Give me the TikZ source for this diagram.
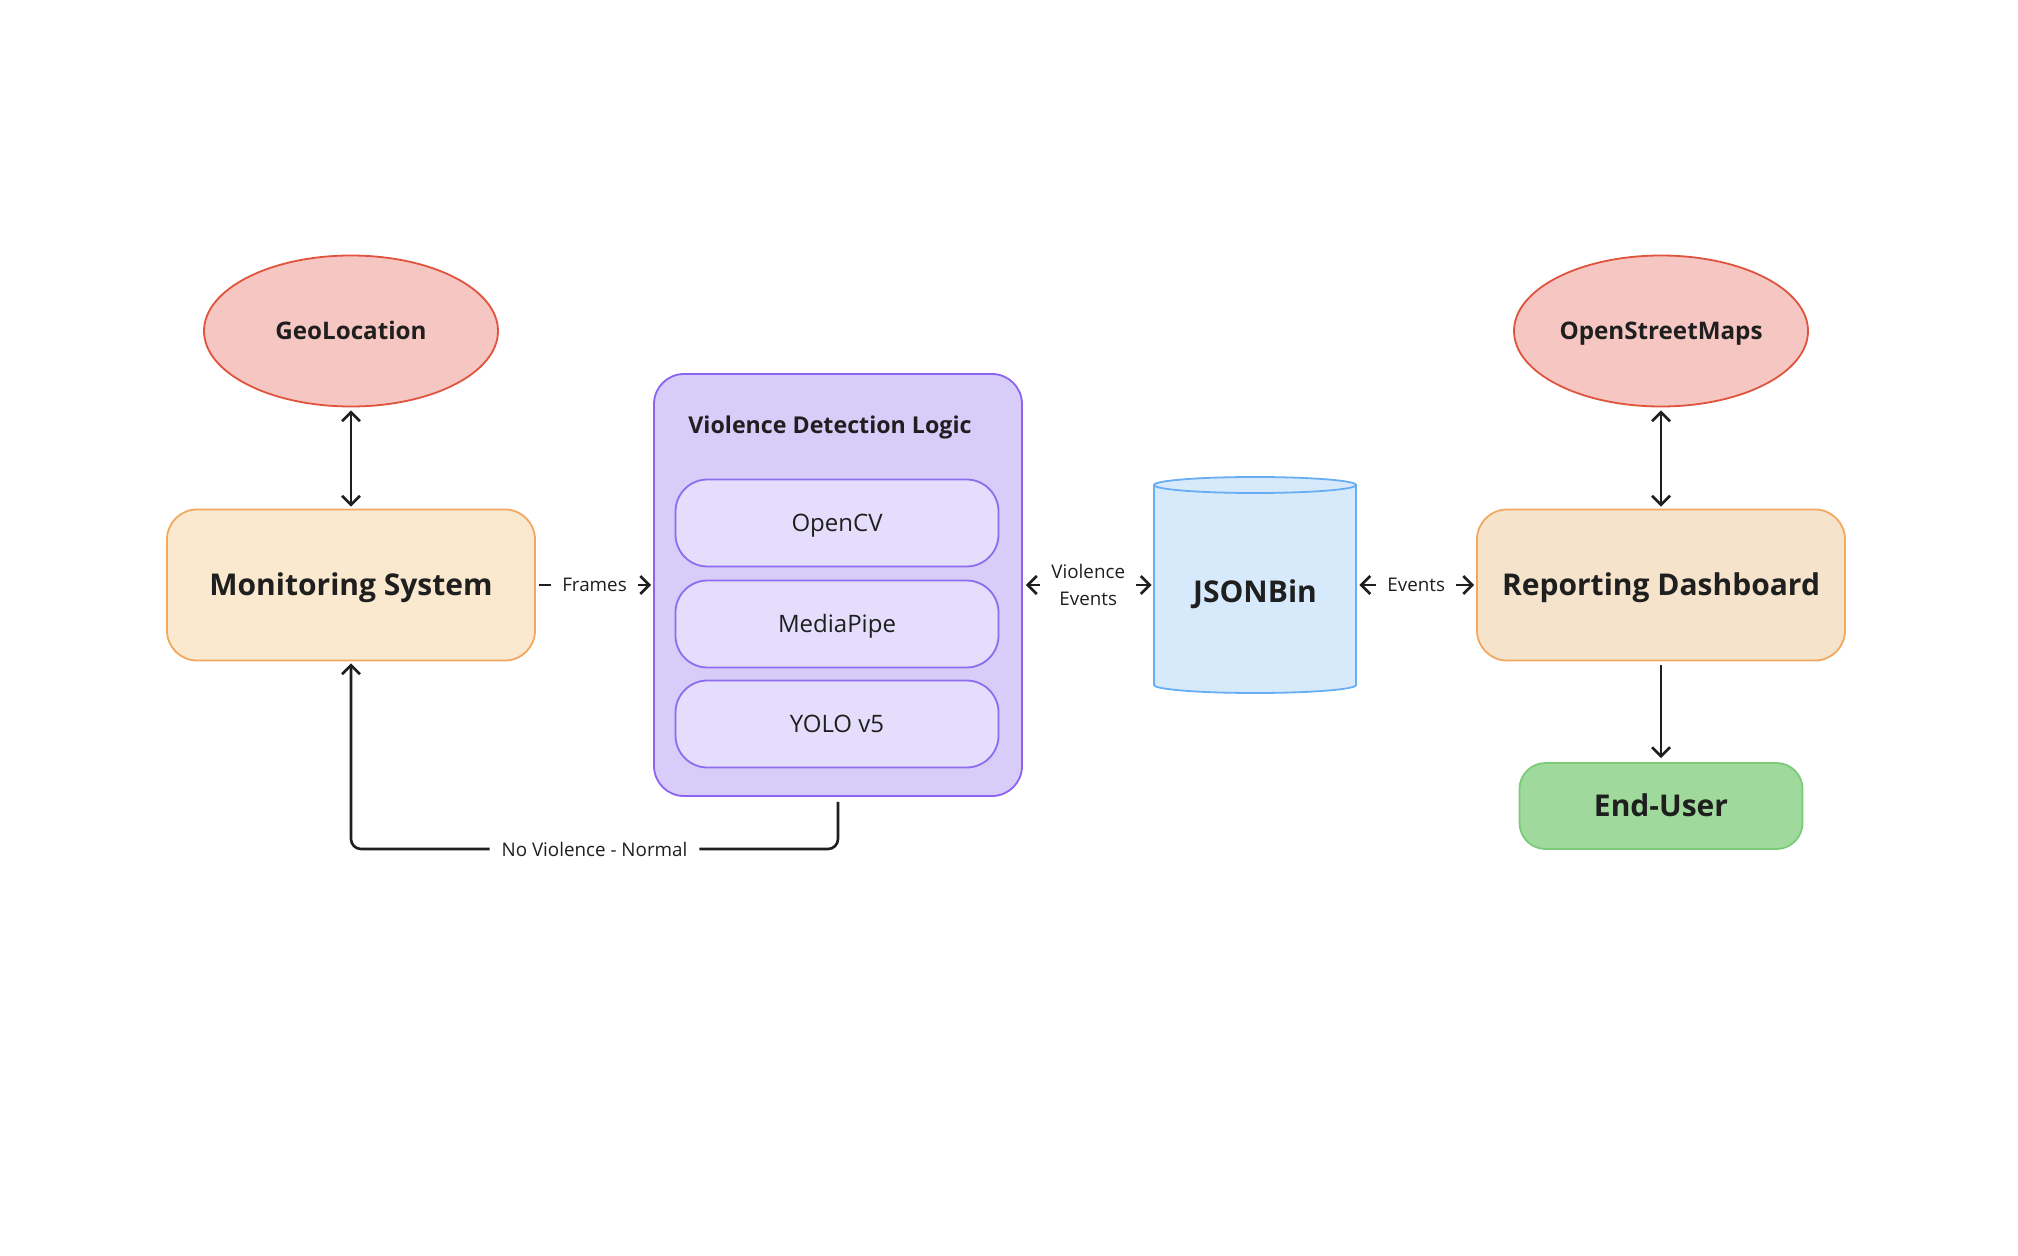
\documentclass[tikz,border=0pt]{standalone}
\usepackage{fontspec}
\setmainfont{Open Sans}
\usetikzlibrary{arrows.meta,shapes.geometric}
\definecolor{ink}{HTML}{1F1F1F}
\definecolor{ellfill}{HTML}{F5C6C2}
\definecolor{elldraw}{HTML}{E0533D}
\definecolor{monfill}{HTML}{FAE8CF}
\definecolor{mondraw}{HTML}{F2A85E}
\definecolor{repfill}{HTML}{F5E4CB}
\definecolor{purfill}{HTML}{D8CCF9}
\definecolor{purdraw}{HTML}{8C63F2}
\definecolor{infill}{HTML}{E5DDFC}
\definecolor{indraw}{HTML}{8D6CF0}
\definecolor{jsfill}{HTML}{D7EAFC}
\definecolor{jsdraw}{HTML}{68AEF2}
\definecolor{endfill}{HTML}{9FDA9C}
\definecolor{enddraw}{HTML}{7CCB79}
\begin{document}
\begin{tikzpicture}[x=0.5pt,y=-0.5pt,
  ell/.style={ellipse, draw=elldraw, fill=ellfill, line width=0.9pt, minimum width=147pt, minimum height=75.5pt, inner sep=0pt, text=ink, font=\bfseries\fontsize{12.1}{15}\selectfont, text height=8.6pt, text depth=0pt},
  bigbox/.style={rectangle, rounded corners=15pt, draw=mondraw, line width=0.9pt, minimum width=184pt, minimum height=75.5pt, inner sep=0pt, text=ink, font=\bfseries\fontsize{15}{18}\selectfont, text height=10.7pt, text depth=0pt},
  innerbox/.style={rectangle, rounded corners=16pt, draw=indraw, fill=infill, line width=0.9pt, minimum width=161.5pt, minimum height=43.5pt, inner sep=0pt, text=ink, font=\fontsize{12}{14}\selectfont, text height=8.6pt, text depth=0pt},
  lbl/.style={fill=white, inner xsep=5.5pt, inner ysep=2pt, text=ink, font=\fontsize{9.4}{12.5}\selectfont, align=center},
  conn/.style={draw=ink, line width=1.3pt},
  tip/.tip={Straight Barb[length=4.5pt,width=9pt]}
]
\fill[white] (0,0) rectangle (2018,1256);
\useasboundingbox (0,0) rectangle (2018,1256);

% nodes
\node[ell] (geo) at (351,331) {GeoLocation};
\node[ell] (osm) at (1661,331) {OpenStreetMaps};
\node[bigbox, fill=monfill] (mon) at (351,585) {Monitoring System};
\node[bigbox, fill=repfill] (rep) at (1661,585) {Reporting Dashboard};

\node[rectangle, rounded corners=15pt, draw=purdraw, fill=purfill, line width=0.9pt, minimum width=184pt, minimum height=211pt, inner sep=0pt] (vdl) at (838,585) {};
\node[text=ink, font=\bfseries\fontsize{11.6}{14}\selectfont, text height=8.3pt, text depth=0pt, inner sep=0pt] (title) at (830,425) {Violence Detection Logic};
\node[innerbox] (cv) at (837,523) {OpenCV};
\node[innerbox] (mp) at (837,624) {MediaPipe};
\node[innerbox] (yolo) at (837,724) {YOLO v5};

% JSONBin cylinder
\node[rectangle, minimum width=101pt, minimum height=108pt, inner sep=0pt] (json) at (1255,585) {};
\fill[jsfill] (1154,485) -- (1154,685) arc[start angle=180, end angle=360, x radius=50.5pt, y radius=4pt] -- (1356,485) arc[start angle=0, end angle=180, x radius=50.5pt, y radius=4pt] -- cycle;
\draw[jsdraw, line width=0.9pt] (1154,485) -- (1154,685) arc[start angle=180, end angle=360, x radius=50.5pt, y radius=4pt] -- (1356,485);
\draw[jsdraw, line width=0.9pt] (1255,485) ellipse[x radius=50.5pt, y radius=4pt];
\node[text=ink, font=\bfseries\fontsize{15}{18}\selectfont, text height=10.7pt, text depth=0pt, inner sep=0pt] (jsonlabel) at (1255,592) {JSONBin};

\node[rectangle, rounded corners=13pt, draw=enddraw, fill=endfill, line width=0.9pt, minimum width=141.5pt, minimum height=43pt, inner sep=0pt, text=ink, font=\bfseries\fontsize{15}{18}\selectfont, text height=10.7pt, text depth=0pt] (enduser) at (1661,806) {End-User};

% connectors
\draw[conn, tip-tip, shorten <=1.5pt, shorten >=1pt] (geo.south) -- (mon.north);
\draw[conn, tip-tip, shorten <=1.5pt, shorten >=1pt] (osm.south) -- (rep.north);
\draw[conn, -tip, shorten <=2pt, shorten >=2pt] (rep.south) -- (enduser.north);
\draw[conn, -tip, shorten <=1.5pt, shorten >=1pt] (mon.east) -- node[lbl] {Frames} (vdl.west);
\draw[conn, tip-tip, shorten <=1.5pt, shorten >=1pt] (vdl.east) -- node[lbl, inner ysep=1pt, font=\fontsize{9.4}{13.8}\selectfont] {Violence\\Events} (json.west);
\draw[conn, tip-tip, shorten <=1.5pt, shorten >=1pt] (json.east) -- node[lbl] {Events} (rep.west);
\coordinate (low) at (0,849);
\draw[conn, -tip, rounded corners=5pt, shorten <=2.5pt, shorten >=1pt] (vdl.south) -- (vdl.south |- low) -- node[lbl, inner xsep=6pt] {No Violence - Normal} (mon.south |- low) -- (mon.south);
\end{tikzpicture}
\end{document}
